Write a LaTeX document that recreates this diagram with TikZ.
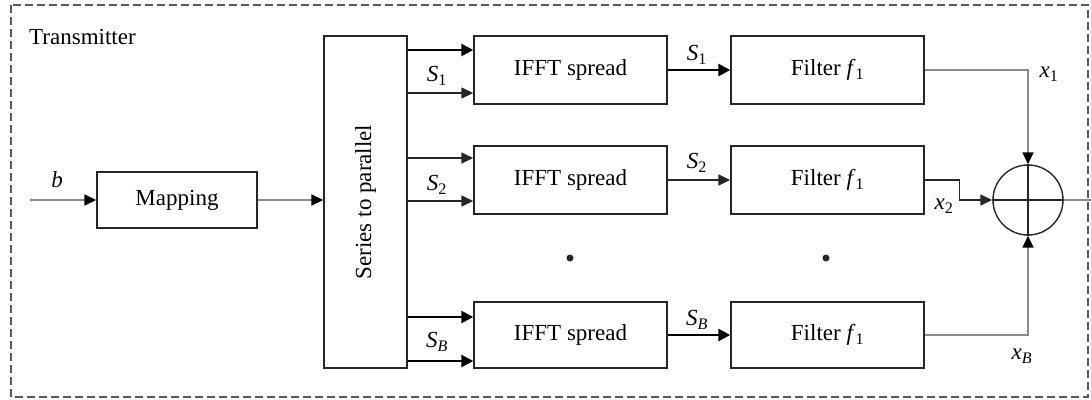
\documentclass[tikz,border=0pt]{standalone}
\usepackage{fontspec}
\setmainfont{Liberation Serif}
\usetikzlibrary{arrows.meta}
\newcommand\sv[2]{\textit{#1}\textsubscript{#2}}
\begin{document}
\begin{tikzpicture}[x=1pt,y=-1pt,
  font=\fontsize{23}{27}\selectfont,
  blk/.style={draw=black!85,line width=1.4pt,inner sep=0pt},
  arr/.style={line width=1.4pt,draw=black!85,-{Triangle[length=12pt,width=11pt]}},
  thk/.style={line width=2.6pt,draw=black,-{Triangle[length=12pt,width=12pt]}},
  garr/.style={line width=1.6pt,draw=black!45,-{Triangle[length=12pt,width=11pt,color=black]}},
  gln/.style={line width=1.6pt,draw=black!45},
  lbl/.style={inner sep=0pt}]
\useasboundingbox (0,0) rectangle (1091,399);
\draw[draw=black!65,line width=1.3pt,dash pattern=on 8pt off 4pt] (11,5) rectangle (1088,397);
\node[lbl,anchor=west] (tx) at (29,37) {Transmitter};
% blocks
\node[blk,minimum width=160,minimum height=56] (map) at (177,200) {Mapping};
\node[blk,minimum width=83,minimum height=332] (sp) at (365.5,202) {};
\node[rotate=90,lbl] (spt) at (sp.center) {Series to parallel};
\node[blk,minimum width=193,minimum height=68] (i1) at (570.5,70) {IFFT spread};
\node[blk,minimum width=193,minimum height=68] (i2) at (570.5,180) {IFFT spread};
\node[blk,minimum width=193,minimum height=66] (iB) at (570.5,335) {IFFT spread};
\node[blk,minimum width=193,minimum height=68] (f1) at (827.5,70) {Filter \textit{f}\textsubscript{1}};
\node[blk,minimum width=193,minimum height=68] (f2) at (827.5,180) {Filter \textit{f}\textsubscript{1}};
\node[blk,minimum width=193,minimum height=66] (fB) at (827.5,335) {Filter \textit{f}\textsubscript{1}};
\node[draw=black!85,line width=1.4pt,circle,minimum size=70,inner sep=0pt] (sum) at (1028,200) {};
\draw[line width=1.4pt,black!85] (sum.north) -- (sum.south) (sum.west) -- (sum.east);
% input
\coordinate (in) at (30,200);
\draw[garr] (in) -- (map.west);
\node[lbl] (lb) at (57,180) {\textit{b}};
\draw[garr] (map.east) -- (map.east -| sp.west);
% series to parallel outputs
\path ([yshift=20pt]i1.west) coordinate (i1a) ([yshift=-23pt]i1.west) coordinate (i1b);
\path ([yshift=22pt]i2.west) coordinate (i2a) ([yshift=-21pt]i2.west) coordinate (i2b);
\path ([yshift=18pt]iB.west) coordinate (iBa) ([yshift=-26pt]iB.west) coordinate (iBb);
\draw[thk] (sp.east |- i1a) -- (i1a);
\draw[arr] (sp.east |- i1b) -- (i1b);
\draw[arr] (sp.east |- i2a) -- (i2a);
\draw[arr] (sp.east |- i2b) -- (i2b);
\draw[thk] (sp.east |- iBa) -- (iBa);
\draw[thk] (sp.east |- iBb) -- (iBb);
\node[lbl] (s1a) at (437,76) {\sv{S}{1}};
\node[lbl] (s2a) at (437,185) {\sv{S}{2}};
\node[lbl] (sBa) at (437,342) {\sv{S}{\textit{B}}};
% IFFT to filter
\draw[thk] (i1.east) -- (f1.west);
\draw[arr] (i2.east) -- (f2.west);
\draw[thk] (iB.east) -- (fB.west);
\node[lbl] (s1b) at (697,55) {\sv{S}{1}};
\node[lbl] (s2b) at (697,163) {\sv{S}{2}};
\node[lbl] (sBb) at (697,320) {\sv{S}{\textit{B}}};
% filters to sum
\draw[garr] (f1.east) -| (sum.north);
\draw[arr] (f2.east) -- ++(35,0) |- (sum.west);
\draw[garr] (fB.east) -| (sum.south);
\node[lbl] (x1) at (1049,74) {\sv{x}{1}};
\node[lbl] (x2) at (944,206) {\sv{x}{2}};
\node[lbl] (xB) at (1022,356) {\sv{x}{\textit{B}}};
\coordinate (out) at (1091,200);
\draw[gln] (sum.east) -- (out);
% dots
\fill[black!85] (570,258) circle (3.5) coordinate (d1);
\fill[black!85] (826,258) circle (3.5) coordinate (d2);
\end{tikzpicture}
\end{document}
